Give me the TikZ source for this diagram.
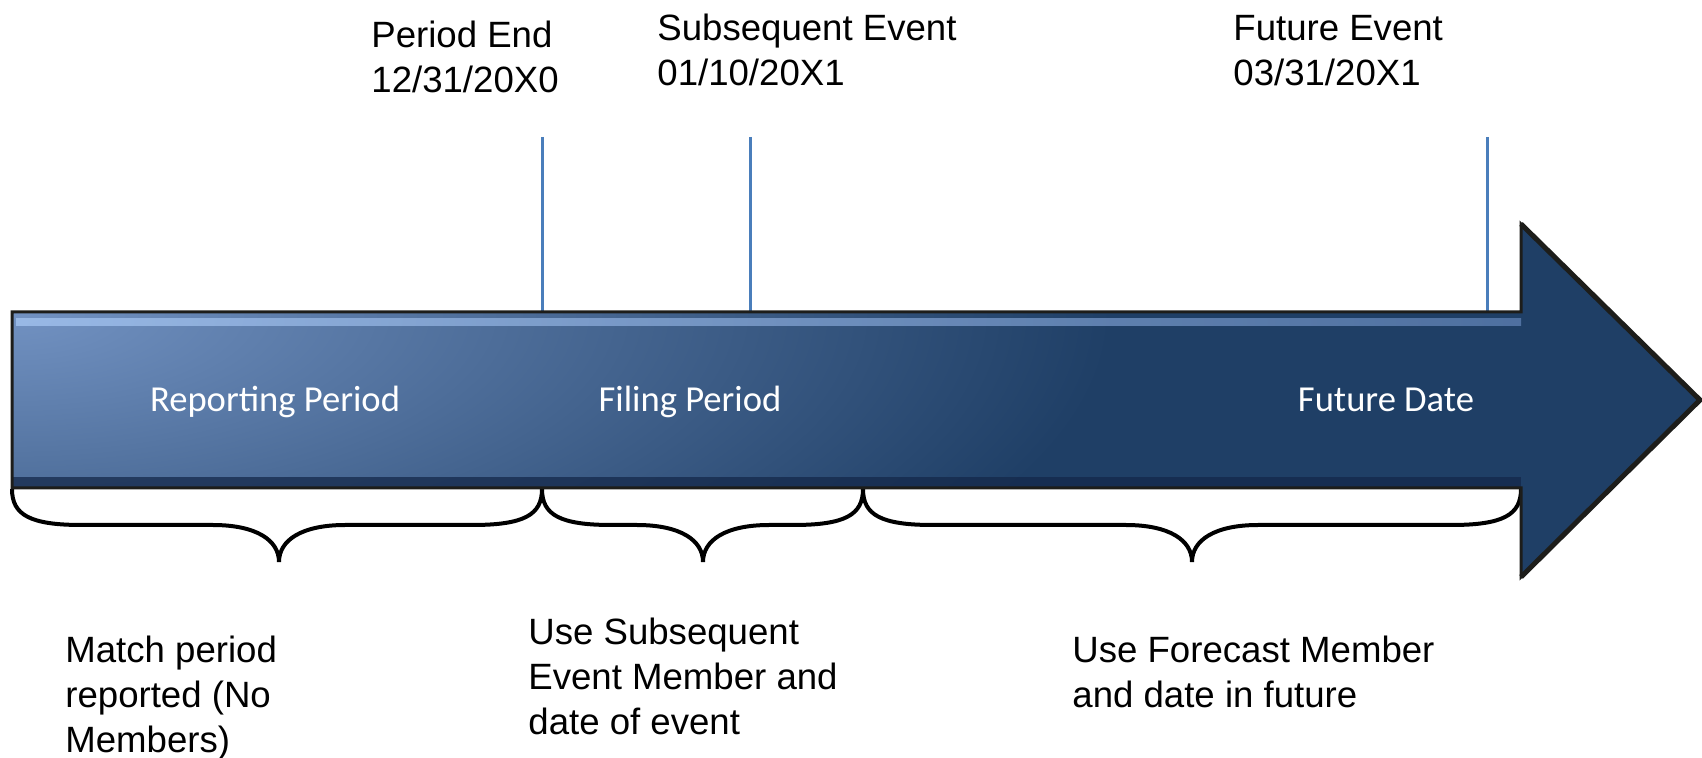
\documentclass[tikz,border=0pt]{standalone}
\usepackage{fontspec}
\setmainfont{Liberation Sans}
\newfontfamily\calibrifont{Carlito}
\definecolor{navy}{HTML}{1F3F66}
\definecolor{lightnavy}{HTML}{7292C2}
\definecolor{hiA}{HTML}{A3C3EF}
\definecolor{hiB}{HTML}{5A7CAE}
\definecolor{botband}{HTML}{14284A}
\definecolor{outlinec}{HTML}{1D1D1A}
\definecolor{tickblue}{HTML}{4A7EBB}
\newcommand\mybrace[3]{%
  \draw[bracestyle] ({#1},489) .. controls ({#1},515) and ({#1+18},525) .. ({#1+70},525)
    -- ({#3-66},525) .. controls ({#3-23},525) and ({#3},540) .. ({#3},562)
    .. controls ({#3},540) and ({#3+23},525) .. ({#3+66},525)
    -- ({#2-70},525) .. controls ({#2-18},525) and ({#2},515) .. ({#2},489);}
\begin{document}
\begin{tikzpicture}[x=0.5pt,y=-0.5pt,
  toplabel/.style={anchor=north west, inner sep=0pt, align=left, text=black,
    font=\fontsize{18.3}{22.5}\selectfont},
  inlabel/.style={anchor=base, inner sep=0pt, text=white,
    font=\calibrifont\fontsize{18.3}{22}\selectfont},
  tickline/.style={draw=tickblue, line width=1.5pt},
  bracestyle/.style={draw=black, line width=2pt}]
\useasboundingbox (0,0) rectangle (1702,758);

% tick coordinates
\coordinate (t1top) at (542,137);
\coordinate (t1bot) at (542,312);
\coordinate (t2top) at (750,137);
\coordinate (t2bot) at (750,312);
\coordinate (t3top) at (1487,137);
\coordinate (t3bot) at (1487,312);
\draw[tickline] (t1top) -- (t1bot);
\draw[tickline] (t2top) -- (t2bot);
\draw[tickline] (t3top) -- (t3bot);

% braces
\mybrace{12}{542}{279}
\mybrace{542}{863}{703}
\mybrace{863}{1521}{1192}

% arrow body
\fill[navy] (12,312) -- (1521,312) -- (1521,224) -- (1700,400) -- (1521,577) -- (1521,488) -- (12,488) -- cycle;
\begin{scope}
  \clip (12,312) rectangle (1521,488);
  \shade[inner color=lightnavy, outer color=navy] (12,312) ellipse [x radius=1100, y radius=420];
  \shade[left color=hiA, right color=hiB, opacity=0.8] (16,319) rectangle (1535,326);
  \fill[botband, opacity=0.75] (12,477) rectangle (1521,487);
\end{scope}
\draw[outlinec, line width=1.5pt, line join=miter] (12,312) -- (1521,312) -- (1521,224) -- (1700,400) -- (1521,577) -- (1521,488) -- (12,488) -- cycle;
\draw[outlinec, line width=2.5pt, line join=miter] (1521,224) -- (1700,400) -- (1521,577);

% labels inside arrow
\node[inlabel] (rp) at (275,412) {Reporting Period};
\node[inlabel] (fp) at (690,412) {Filing Period};
\node[inlabel] (fd) at (1386,412) {Future Date};

% top labels
\node[toplabel] (pe) at (371,15.5) {\strut Period End\\12/31/20X0};
\node[toplabel] (se) at (657,8.5) {\strut Subsequent Event\\01/10/20X1};
\node[toplabel] (fe) at (1233,8.5) {\strut Future Event\\03/31/20X1};

% bottom labels
\node[toplabel] (mp) at (65,630.5) {\strut Match period\\reported (No\\Members)};
\node[toplabel] (us) at (528,612.5) {\strut Use Subsequent\\Event Member and\\date of event};
\node[toplabel] (uf) at (1072,630.5) {\strut Use Forecast Member\\and date in future};
\end{tikzpicture}
\end{document}
